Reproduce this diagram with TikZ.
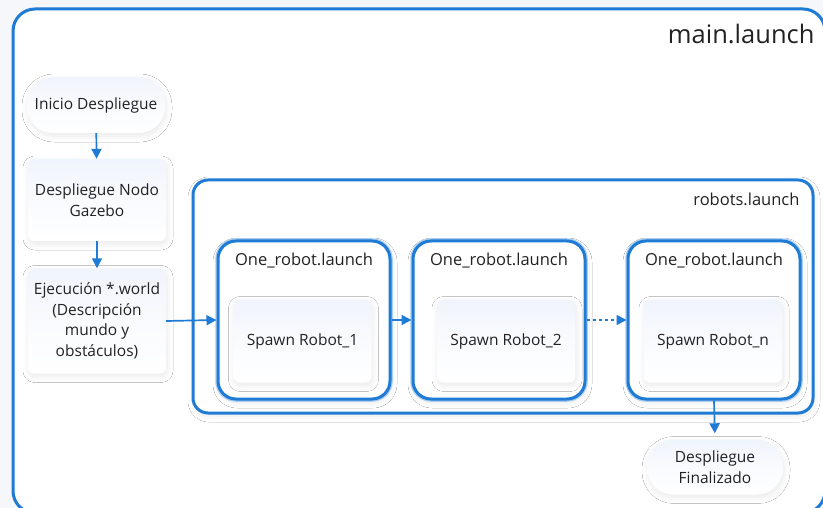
\documentclass[tikz,border=0pt]{standalone}
\usepackage{fontspec}
\setmainfont{Open Sans}
\usetikzlibrary{arrows.meta,shadows.blur}
\definecolor{frameblue}{HTML}{1F7BD3}
\definecolor{halo}{HTML}{A8CDF2}
\definecolor{inktext}{HTML}{222222}
\definecolor{paleblue}{HTML}{F0F4FC}
\definecolor{pagebg}{HTML}{F5F7FA}
\tikzset{
  softshadow/.style={blur shadow={shadow xshift=1pt, shadow yshift=-3pt,
      shadow blur radius=6pt, shadow blur steps=10, shadow opacity=9}},
  stepbox/.style={rounded corners=6pt, top color=paleblue, bottom color=white,
      middle color=white!60!paleblue,
      softshadow, text=inktext, align=center,
      font=\fontsize{15.5}{20.5}\selectfont, minimum width=138pt, inner sep=2pt},
  pill/.style={stepbox, rounded corners=26pt},
  launchbox/.style={draw=frameblue, line width=3pt, rounded corners=18pt,
      fill=white, softshadow, preaction={draw=halo, line width=5.5pt},
      minimum width=172pt, minimum height=158pt},
  launchtitle/.style={text=inktext, font=\fontsize{16.5}{20}\selectfont},
  spawnbox/.style={stepbox, minimum width=138pt, minimum height=83pt},
  flow/.style={draw=frameblue, line width=1.7pt,
      -{Triangle[length=10pt,width=10pt]}},
}
\begin{document}
\begin{tikzpicture}[x=1pt,y=-1pt]
  \useasboundingbox (0,0) rectangle (823,508);
  \fill[pagebg] (0,0) rectangle (823,508);
  \begin{scope}
    \clip (0,0) rectangle (823,508);
    % main.launch frame
    \draw[frameblue, line width=3pt, fill=white, rounded corners=22pt]
      (13,9) rectangle (825,513);
  \end{scope}
  \node[anchor=base east, text=inktext, font=\fontsize{25.5}{30}\selectfont]
    (mainlabel) at (818,44) {main.launch};

  % left column of steps
  \node[pill, minimum height=56pt] (inicio) at (96,105) {Inicio Despliegue};
  \node[stepbox, minimum height=82pt] (gazebo) at (97,200)
    {Despliegue Nodo\\Gazebo};
  \node[stepbox, minimum height=105pt] (world) at (97,321)
    {Ejecución *.world\\(Descripción\\mundo y\\obstáculos)};

  % robots.launch frame
  \node[draw=frameblue, line width=3pt, rounded corners=15pt, fill=white,
        softshadow, minimum width=620pt, minimum height=233pt]
    (robots) at (503,296.5) {};
  \node[anchor=base east, text=inktext, font=\fontsize{16.5}{20}\selectfont]
    (robotslabel) at (803,206) {robots.launch};

  % one robot launch files
  \node[launchbox] (r1) at (304,320) {};
  \node[launchbox] (r2) at (499,320) {};
  \node[launchbox] (r3) at (714,320) {};
  \foreach \r in {r1,r2,r3}
    \node[launchtitle] (\r title) at ([yshift=-21pt]\r.north) {One\_robot.launch};
  \node[spawnbox] (s1) at (302.5,341) {Spawn Robot\_1};
  \node[spawnbox] (s2) at (506,341) {Spawn Robot\_2};
  \node[spawnbox] (s3) at (713,341) {Spawn Robot\_n};

  % final state
  \node[pill, minimum width=136pt, minimum height=55pt] (fin) at (715,467)
    {Despliegue\\Finalizado};

  % connectors
  \draw[flow] (inicio) -- (gazebo);
  \draw[flow] (gazebo) -- (world);
  \draw[flow] (world.east) -- (r1.west);
  \draw[flow] (r1.east) -- (r2.west);
  \draw[flow, dashed] (r2.east) -- (r3.west);
  \draw[flow, shorten >=6pt] (r3.south) -- (fin.north);
\end{tikzpicture}
\end{document}
